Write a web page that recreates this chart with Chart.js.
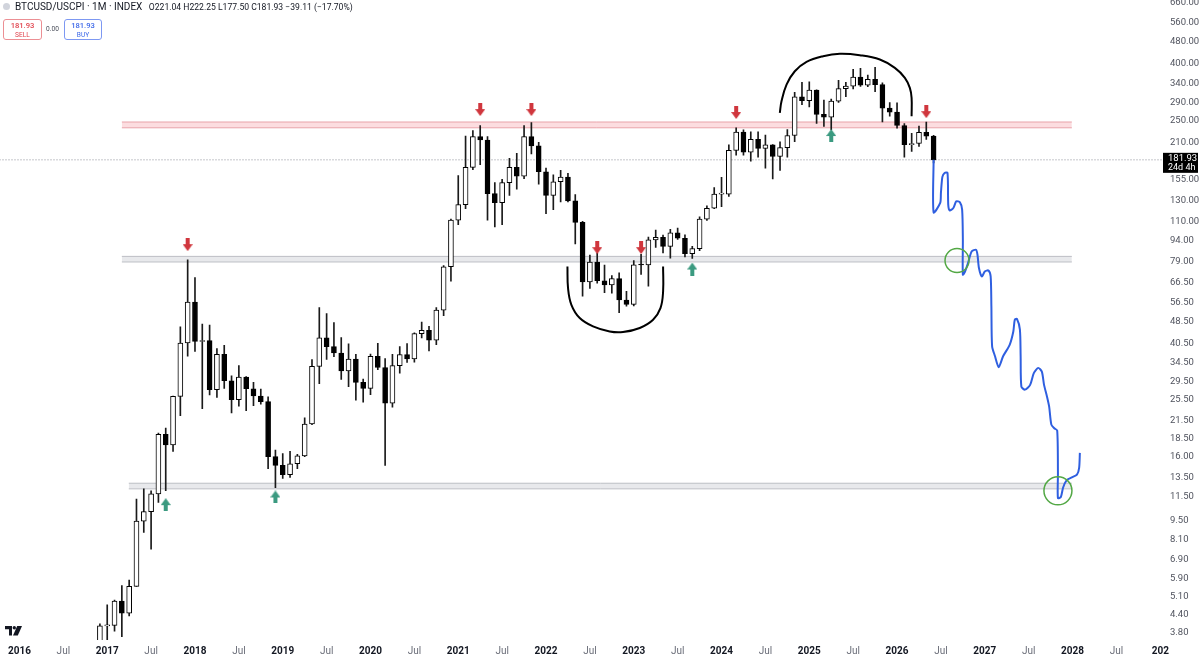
<!DOCTYPE html>
<html>
<head>
<meta charset="utf-8">
<title>BTCUSD/USCPI - 1M</title>
<script src="https://cdn.jsdelivr.net/npm/chart.js@4.4.1/dist/chart.umd.min.js"></script>
<style>
  html, body { margin: 0; padding: 0; background: #fff; }
  body { width: 1200px; height: 658px; position: relative; overflow: hidden; font-family: Roboto, "Liberation Sans", sans-serif; }
  #wrap { position: absolute; left: 0; top: 0; width: 1200px; height: 658px; overflow: hidden; }
  #chart { position: absolute; left: 0; top: 0; }
  .icon { position: absolute; left: 3px; top: 3px; width: 7px; height: 7px; border-radius: 50%; background: #d1d4dc; }
  .hdr { position: absolute; left: 15px; top: 1px; font-size: 10px; line-height: 12px; color: #131722; white-space: nowrap; }
  .hdr .ohlc { margin-left: 4px; font-size: 8.6px; }
  .box { position: absolute; top: 19px; height: 18px; border-radius: 3px; text-align: center; line-height: 8px; padding-top: 1px; }
  .box b { display: block; font-size: 7.6px; font-weight: 500; margin-top: 1px; }
  .box span { display: block; font-size: 6.6px; margin-top: 1px; }
  .sell { left: 3px; width: 37px; border: 1px solid #ec8f94; color: #e0424c; }
  .buy { left: 64px; width: 36px; border: 1px solid #7d98f2; color: #3d68e8; }
  .spread { position: absolute; left: 46px; top: 25px; font-size: 6.6px; color: #4a4e5a; }
  .logo { position: absolute; left: 5px; top: 626px; }
</style>
</head>
<body>
<div id="wrap"><canvas id="chart" width="1200" height="658"></canvas></div>
<div class="icon"></div>
<div class="hdr">BTCUSD/USCPI · 1M · INDEX <span class="ohlc">O221.04 H222.25 L177.50 C181.93 −39.11 (−17.70%)</span></div>
<div class="box sell"><b>181.93</b><span>SELL</span></div>
<div class="spread">0.00</div>
<div class="box buy"><b>181.93</b><span>BUY</span></div>
<svg class="logo" width="17" height="10" viewBox="0 0 17 10">
  <path d="M0 0h7v9.5H4V3.2H0z" fill="#131722"/>
  <circle cx="9.3" cy="1.7" r="1.7" fill="#131722"/>
  <path d="M12.2 0h4.8l-4.2 9.5H8z" fill="#131722"/>
</svg>
<script>
// months are counted from Jan 2016 (0 = Jan 2016)
const xMin = -2.73, xMax = 156.23;
const yMin = 3.564, yMax = 676.4;

const xTickMonths = [0, 6, 12, 18, 24, 30, 36, 42, 48, 54, 60, 66, 72, 78, 84, 90, 96, 102, 108, 114, 120, 126, 132, 138, 144, 150, 156];
const xTickText = ['2016', 'Jul', '2017', 'Jul', '2018', 'Jul', '2019', 'Jul', '2020', 'Jul', '2021', 'Jul', '2022', 'Jul',
  '2023', 'Jul', '2024', 'Jul', '2025', 'Jul', '2026', 'Jul', '2027', 'Jul', '2028', 'Jul', '202'];
const yTicks = [3.8, 4.4, 5.1, 5.9, 6.9, 8.1, 9.5, 11.5, 13.5, 16, 18.5, 21.5, 25.5, 29.5, 34.5, 40.5, 48.5, 56.5, 66.5,
  79, 94, 110, 130, 155, 210, 250, 290, 340, 400, 480, 560, 660];

// monthly candles, first one is Dec 2016
const firstMonth = 11;
const opens = [
  3.10,
  4.00, 4.02, 4.90, 4.44, 5.53, 9.43, 10.2, 11.8, 19.2, 17.6, 26.2, 40.6,
  56.7, 41.1, 41.4, 27.7, 37.0, 29.8, 25.5, 30.7, 27.9, 26.3, 25.1, 16.0,
  14.9, 13.8, 15.1, 16.1, 20.9, 33.5, 42.3, 39.4, 37.4, 32.3, 35.6, 29.4,
  28.0, 36.4, 33.2, 24.8, 33.7, 36.9, 35.6, 43.8, 45.0, 41.5, 53.1, 75.8,
  111, 126, 171, 220, 214, 138, 128, 151, 171, 159, 220, 204,
  165, 136, 152, 158, 130, 109, 67.0, 78.7, 67.6, 65.3, 68.8, 57.7,
  55.7, 77.0, 76.9, 94.4, 96.5, 89.5, 100, 95.7, 84.4, 87.9, 112, 122.4,
  137.3, 137.4, 196.5, 228.5, 193.6, 215, 199.7, 205.7, 187, 201, 222, 305,
  295.6, 322, 264, 257.8, 294.4, 325.9, 332.6, 358, 335, 352, 337, 278,
  269, 241, 206, 208, 228, 221.04
];
const highs = [
  4.07,
  4.75, 4.94, 5.56, 5.82, 11.3, 12.3, 12.1, 19.4, 20.2, 26.3, 46.3, 80.2,
  69.4, 47.4, 47.0, 38.8, 39.8, 31.0, 33.7, 30.8, 29.4, 27.8, 26.1, 16.9,
  16.4, 16.7, 16.3, 22.0, 35.4, 54.2, 51.6, 48.0, 42.4, 40.3, 37.0, 30.2,
  37.1, 40.5, 35.7, 37.0, 39.4, 40.4, 44.1, 48.2, 46.5, 54.2, 76.5, 112,
  160, 221, 231, 241, 220, 151, 155, 184, 192, 241, 247, 210,
  170, 161, 167, 163, 137, 110, 83.4, 85.0, 76.8, 70.5, 72.1, 62.0,
  79.7, 83.9, 96.7, 102.3, 98.2, 103, 104, 98.4, 89.6, 114, 124.7, 145,
  157.7, 205.8, 236.5, 232.6, 229, 229, 223, 206, 211, 233, 316, 343,
  344.6, 323, 296.9, 299, 348.6, 343, 381.4, 385, 364, 388, 342, 291,
  290, 245, 226, 240, 248, 222.25
];
const lows = [
  3.07,
  3.11, 3.83, 3.66, 4.34, 5.53, 8.60, 7.50, 11.0, 12.1, 16.7, 22.4, 36.4,
  37.9, 23.7, 26.5, 26.0, 28.0, 22.9, 24.2, 23.3, 24.3, 24.6, 14.5, 12.4,
  13.4, 13.5, 14.5, 16.0, 20.8, 29.1, 35.5, 36.3, 30.1, 28.4, 25.4, 25.0,
  26.6, 32.6, 14.9, 24.0, 31.7, 34.6, 34.7, 42.3, 38.0, 40.0, 50.8, 67.4,
  107, 122, 168, 175, 111, 105, 107, 136, 143, 156, 191, 149,
  117, 121, 129, 129, 91.4, 59.5, 63.5, 66.2, 61.3, 61.1, 52.0, 54.9,
  55.0, 71.1, 64.7, 88.8, 84.9, 81.3, 94.8, 82.1, 81.1, 86.4, 110.7, 122,
  124, 134.7, 189, 189, 180, 186, 170, 155.6, 166.7, 186, 211, 286,
  280.5, 245, 239, 232.5, 291, 305, 325, 332, 331, 318, 248, 260,
  236, 186, 195, 203, 215, 177.50
];
const closes = [
  4.00,
  4.02, 4.90, 4.44, 5.53, 9.43, 10.2, 11.8, 19.2, 17.6, 26.2, 40.6, 56.7,
  41.1, 41.4, 27.7, 37.0, 29.8, 25.5, 30.7, 27.9, 26.3, 25.1, 16.0, 14.9,
  13.8, 15.1, 16.1, 20.9, 33.5, 42.3, 39.4, 37.4, 32.3, 35.6, 29.4, 28.0,
  36.4, 33.2, 24.8, 33.7, 36.9, 35.6, 43.8, 45.0, 41.5, 53.1, 75.8, 111,
  126, 171, 220, 214, 138, 128, 151, 171, 159, 220, 204, 165,
  136, 152, 158, 130, 109, 67.0, 78.7, 67.6, 65.3, 68.8, 57.7, 55.7,
  77.0, 76.9, 94.4, 96.5, 89.5, 100, 95.7, 84.4, 87.9, 112, 122.4, 137.3,
  137.4, 196.5, 228.5, 193.6, 215, 199.7, 205.7, 187, 201, 222, 305, 295.6,
  322, 264, 257.8, 294.4, 325.9, 332.6, 358, 335, 352, 337, 278, 269,
  241, 206, 208, 228, 221.04, 181.93
];
const lastClose = 181.93;

// horizontal zones: [fromMonth, toMonth, top, bottom]
const upperZone = [14.0, 143.9, 248, 236.5];
const middleZone = [14.0, 143.9, 82.5, 78.8];
const lowerZone = [14.95, 143.9, 12.87, 12.29];

// drawn markers
const redArrows = [[23, 90.8], [63, 274.6], [70, 274.6], [79, 88.6], [85, 88.6], [98, 268], [124, 270]];
const greenArrows = [[20, 10.8], [35, 11.5], [92, 74.4], [111, 222]];
const circles = [[128.2, 79.8], [142.0, 12.1]];

// hand drawn projection
const projMonths = [125.0, 125.0, 125.9, 126.0, 126.2, 126.5, 126.9, 127.0, 127.2, 127.7, 128.1, 128.6, 128.9, 129.0, 129.0,
  129.3, 129.7, 130.2, 130.8, 131.0, 131.2, 131.6, 132.0, 132.5, 132.8, 132.9, 133.0, 133.4, 133.9, 134.5, 135.4, 135.9,
  136.1, 136.4, 136.8, 136.9, 137.0, 137.5, 138.2, 138.7, 139.3, 139.8, 140.1, 140.5, 140.8, 141.1, 141.5, 141.9, 142.0,
  142.0, 142.4, 142.7, 143.2, 143.9, 144.6, 144.9, 145.0];
const projValues = [181.9, 118.3, 127.8, 138.7, 158.2, 163.4, 163.4, 126.0, 120.2, 122.6, 129.5, 128.4, 121.0, 94.6, 71.0,
  72.9, 78.1, 85.9, 87.1, 83.6, 75.0, 70.0, 72.9, 73.5, 70.0, 54.8, 39.5, 36.4, 33.3, 36.4, 40.0, 44.6,
  49.1, 49.4, 45.3, 36.4, 28.4, 27.7, 28.8, 31.7, 33.1, 32.1, 28.8, 26.2, 24.1, 20.8, 20.2, 19.8, 14.0,
  11.4, 11.5, 12.4, 13.2, 13.5, 13.8, 14.6, 16.5];

const bowlMonths = [74.93, 75.01, 75.47, 76.61, 78.43, 80.71, 82.53, 84.82, 86.64, 87.65, 88.01, 88.01];
const bowlValues = [76.0, 63.7, 55.5, 49.8, 46.5, 44.6, 44.4, 45.9, 49.1, 54.0, 61.9, 76.0];
const domeMonths = [103.97, 104.20, 104.89, 106.02, 107.62, 109.89, 112.18, 114.91, 117.65, 119.70, 121.07, 121.75, 121.99, 121.99];
const domeValues = [267.2, 293.9, 337.0, 375.8, 405.9, 425.0, 433.4, 428.5, 413.7, 386.4, 356.1, 328.0, 302.2, 259.9];

function arrowImage(color, up) {
  const c = document.createElement('canvas');
  c.width = 10; c.height = 13;
  const g = c.getContext('2d');
  g.fillStyle = color;
  if (up) {
    g.beginPath(); g.moveTo(0, 7); g.lineTo(10, 7); g.lineTo(5, 0); g.closePath(); g.fill();
    g.fillRect(3, 6, 4, 7);
  } else {
    g.fillRect(3, 0, 4, 7);
    g.beginPath(); g.moveTo(0, 6); g.lineTo(10, 6); g.lineTo(5, 13); g.closePath(); g.fill();
  }
  return c;
}

function pairs(ms, vs) {
  return ms.map((m, i) => ({ x: m, y: vs[i] }));
}

function zoneSets(z, fillColor, lineColor) {
  return [
    { type: 'line', data: [{ x: z[0], y: z[2] }, { x: z[1], y: z[2] }], borderColor: lineColor, borderWidth: 1,
      pointRadius: 0, fill: false, order: 10 },
    { type: 'line', data: [{ x: z[0], y: z[3] }, { x: z[1], y: z[3] }], borderColor: lineColor, borderWidth: 1,
      pointRadius: 0, fill: '-1', backgroundColor: fillColor, order: 10 }
  ];
}

const candleMonths = closes.map((c, i) => firstMonth + i);
const bodyColors = closes.map((c, i) => (c >= opens[i] ? '#ffffff' : '#000000'));
const redArrow = arrowImage('#d0363d', false);
const greenArrow = arrowImage('#3b9a80', true);

// the plot area must start at the canvas corner, so axis label overflow is not reserved
const noScalePadding = {
  id: 'noScalePadding',
  beforeLayout(chart) {
    Object.values(chart.scales).forEach(s => {
      s.getPadding = () => ({ left: 0, top: 0, right: 0, bottom: 0 });
    });
  }
};

const lastPriceTag = {
  id: 'lastPriceTag',
  afterDraw(chart) {
    const ctx = chart.ctx;
    const y = chart.scales.y.getPixelForValue(lastClose);
    const x = chart.chartArea.right;
    ctx.save();
    ctx.fillStyle = '#000';
    ctx.fillRect(x + 1, y - 7, 35, 20);
    ctx.fillStyle = '#fff';
    ctx.textBaseline = 'middle';
    ctx.font = '9.5px Roboto, sans-serif';
    ctx.fillText(lastClose.toFixed(2), x + 6, y - 1);
    ctx.font = '9px Roboto, sans-serif';
    ctx.fillText('24d 4h', x + 6, y + 8);
    ctx.restore();
  }
};

const fontFamily = 'Roboto, "Liberation Sans", sans-serif';

function makeConfig() {
  return {
    type: 'bar',
    data: {
      datasets: [
        ...zoneSets(upperZone, 'rgba(242, 120, 132, 0.25)', '#e9a3aa'),
        ...zoneSets(middleZone, 'rgba(210, 212, 218, 0.5)', '#bdbfc5'),
        ...zoneSets(lowerZone, 'rgba(210, 212, 218, 0.5)', '#bdbfc5'),
        {
          type: 'line', data: [{ x: xMin, y: lastClose }, { x: xMax, y: lastClose }],
          borderColor: '#8a8d96', borderWidth: 1, borderDash: [1, 2], pointRadius: 0, order: 9
        },
        {
          data: candleMonths.map((m, i) => ({ x: m, y: [lows[i], highs[i]] })),
          backgroundColor: '#1a1a1a', borderWidth: 0, barThickness: 1, grouped: false, order: 4
        },
        {
          data: candleMonths.map((m, i) => ({ x: m, y: [opens[i], closes[i]] })),
          backgroundColor: bodyColors, borderColor: '#000', borderWidth: 1, borderSkipped: false,
          barThickness: 5, minBarLength: 1, grouped: false, order: 3
        },
        {
          type: 'line', data: pairs(projMonths, projValues), borderColor: '#2f5fe0', borderWidth: 2,
          pointRadius: 0, tension: 0.25, order: 2
        },
        {
          type: 'line', data: pairs(bowlMonths, bowlValues), borderColor: '#000', borderWidth: 2,
          pointRadius: 0, tension: 0.4, order: 2
        },
        {
          type: 'line', data: pairs(domeMonths, domeValues), borderColor: '#000', borderWidth: 2,
          pointRadius: 0, tension: 0.4, order: 2
        },
        {
          type: 'line', data: circles.map(p => ({ x: p[0], y: p[1] })), showLine: false,
          pointRadius: [12, 14], pointBorderColor: '#53a845', pointBorderWidth: 1.5,
          pointBackgroundColor: 'rgba(0,0,0,0)', order: 1
        },
        {
          type: 'line', data: redArrows.map(p => ({ x: p[0], y: p[1] })), showLine: false,
          pointStyle: redArrow, pointRadius: 5, order: 0
        },
        {
          type: 'line', data: greenArrows.map(p => ({ x: p[0], y: p[1] })), showLine: false,
          pointStyle: greenArrow, pointRadius: 5, order: 0
        }
      ]
    },
    options: {
      responsive: false,
      animation: false,
      events: [],
      layout: { padding: 0 },
      plugins: { legend: { display: false }, tooltip: { enabled: false } },
      scales: {
        x: {
          type: 'linear', min: xMin, max: xMax, offset: false,
          grid: { display: false, drawTicks: false }, border: { display: false },
          afterBuildTicks: s => { s.ticks = xTickMonths.map(v => ({ value: v })); },
          afterFit: s => { s.height = 18; s.paddingLeft = 0; s.paddingRight = 0; },
          ticks: {
            autoSkip: false, maxRotation: 0, padding: 5,
            callback: v => xTickText[xTickMonths.indexOf(v)],
            color: c => (c.tick && c.tick.value % 12 === 0 ? '#131722' : '#6a6d78'),
            font: c => ({ family: fontFamily, size: 10, weight: c.tick && c.tick.value % 12 === 0 ? 'bold' : 'normal' })
          }
        },
        y: {
          type: 'logarithmic', position: 'right', min: yMin, max: yMax,
          grid: { display: false, drawTicks: false }, border: { display: false },
          afterBuildTicks: s => { s.ticks = yTicks.map(v => ({ value: v })); },
          afterFit: s => { s.width = 38; s.paddingTop = 0; s.paddingBottom = 0; },
          ticks: {
            autoSkip: false, padding: 8, color: '#50535e',
            font: { family: fontFamily, size: 9.5 },
            callback: v => Number(v).toFixed(2)
          }
        }
      }
    },
    plugins: [noScalePadding, lastPriceTag]
  };
}

const canvas = document.getElementById('chart');
let chart = new Chart(canvas, makeConfig());

// fallback: if the plot area still got an inset, grow the canvas and slide it so the plot area
// lands on the page corner
const dx = Math.round(chart.chartArea.left);
const dy = Math.round(chart.chartArea.top);
if (dx > 0 || dy > 0) {
  chart.destroy();
  canvas.width = 1200 + dx;
  canvas.height = 658 + dy;
  canvas.style.left = -dx + 'px';
  canvas.style.top = -dy + 'px';
  chart = new Chart(canvas, makeConfig());
}
</script>
</body>
</html>
